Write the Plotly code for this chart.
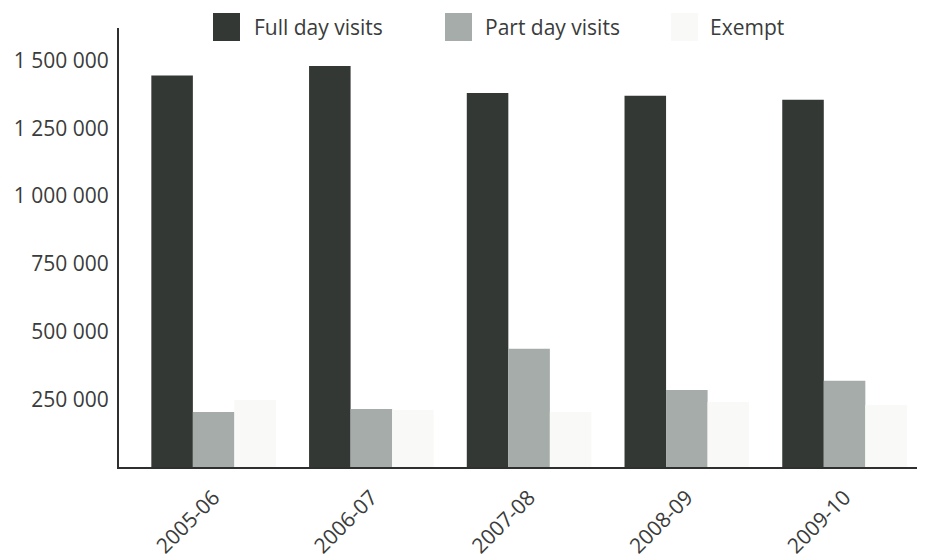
import plotly.graph_objects as go

categories = ["2005-06", "2006-07", "2007-08", "2008-09", "2009-10"]
full_day = [1445000, 1480000, 1380000, 1370000, 1355000]
part_day = [203000, 214000, 436000, 284000, 318000]
exempt = [247000, 210000, 203000, 240000, 229000]
series_names = ["Full day visits", "Part day visits", "Exempt"]
series_colors = ["#333835", "#a6aca9", "#f9f9f7"]
tick_vals = [250000, 500000, 750000, 1000000, 1250000, 1500000]
tick_text = ["250 000", "500 000", "750 000", "1 000 000", "1 250 000", "1 500 000"]

OFF = 8  # page body margin offset
W, H = 925, 559
# screen targets: plot left 119, right 925, top 28, bottom 467
L = 119 - OFF
T = 28 - OFF
R = OFF
B = H - (467 - OFF)
FONT = "Open Sans"
TXT = "#3a3c3b"

fig = go.Figure()
for name, vals, col in zip(series_names, [full_day, part_day, exempt], series_colors):
    fig.add_trace(go.Bar(x=categories, y=vals, name=name, marker_color=col,
                         marker_line_width=0, showlegend=False))

pw, ph = W - L - R, H - T - B
def px(x):
    return (x - OFF - L) / pw
def py(y):
    return (H - B - (y - OFF)) / ph

legend_items = [(213, 252), (445, 483), (671, 708)]
shapes = []
annotations = []
for (sx, tx), name, col in zip(legend_items, series_names, series_colors):
    shapes.append(dict(type="rect", xref="paper", yref="paper",
                       x0=px(sx), x1=px(sx + 27), y0=py(41), y1=py(13),
                       fillcolor=col, line_width=0, layer="above"))
    annotations.append(dict(xref="paper", yref="paper", x=px(tx), y=py(27),
                            xanchor="left", yanchor="middle", text=name,
                            showarrow=False, font=dict(family=FONT, size=21, color=TXT)))

fig.update_layout(
    width=W, height=H,
    margin=dict(l=L, r=R, t=T, b=B, pad=0, autoexpand=False),
    paper_bgcolor="white", plot_bgcolor="white",
    barmode="group", bargap=0.21, bargroupgap=0,
    shapes=shapes, annotations=annotations,
    font=dict(family=FONT, size=21, color=TXT),
    xaxis=dict(type="category", range=[-0.6, 4.51], tickangle=-45, showgrid=False,
               showline=True, linecolor="#2e302f", linewidth=2, automargin=False,
               ticks="", ticklabelstandoff=8, tickfont=dict(size=21, color=TXT)),
    yaxis=dict(range=[0, 1620000], tickvals=tick_vals, ticktext=tick_text,
               showgrid=False, zeroline=False, showline=True, automargin=False,
               linecolor="#2e302f", linewidth=2, ticks="",
               ticklabelstandoff=4,
               tickfont=dict(size=21, color=TXT)),
)

fig.write_html("out.html")
